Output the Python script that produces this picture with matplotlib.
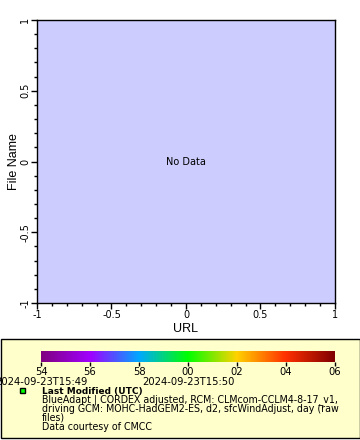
import numpy as np
import matplotlib
matplotlib.use("Agg")
import matplotlib.pyplot as plt
from matplotlib.colors import LinearSegmentedColormap
from matplotlib.patches import Rectangle

# axis ranges / ticks
x_range = [-1, 1]
y_range = [-1, 1]
major_ticks = [-1, -0.5, 0, 0.5, 1]
major_labels = ["-1", "-0.5", "0", "0.5", "1"]

# colour bar (seconds of 2024-09-23T15:49 .. 15:50)
cbar_values = [54, 56, 58, 60, 62, 64, 66]
cbar_labels = ["54", "56", "58", "00", "02", "04", "06"]
cbar_colors = ["#800080", "#a000ff", "#00a8ff", "#00ff00", "#ffd200", "#ff3000", "#800000"]
date_values = [54, 60]
date_labels = ["2024-09-23T15:49", "2024-09-23T15:50"]

legend_lines = [
    "BlueAdapt | CORDEX adjusted, RCM: CLMcom-CCLM4-8-17_v1,",
    "driving GCM: MOHC-HadGEM2-ES, d2, sfcWindAdjust, day (raw",
    "files)",
]
credit = "Data courtesy of CMCC"

W, H = 360, 440
fig = plt.figure(figsize=(W / 100, H / 100), dpi=100)


def px(l, t, r, b):
    return [l / W, 1 - b / H, (r - l) / W, (b - t) / H]


# main plot
ax = fig.add_axes(px(37, 20, 335, 303))
ax.set_facecolor("#ccccff")
ax.set_xlim(x_range)
ax.set_ylim(y_range)
ax.set_xticks(major_ticks)
ax.set_xticklabels(major_labels)
ax.set_yticks(major_ticks)
ax.set_yticklabels(major_labels, rotation=90, va="center")
ax.set_xticks(np.arange(-1, 1.01, 0.1), minor=True)
ax.set_yticks(np.arange(-1, 1.01, 0.1), minor=True)
ax.tick_params(which="major", length=4, width=1, labelsize=7, pad=1)
ax.tick_params(which="minor", length=2, width=1)
for s in ax.spines.values():
    s.set_linewidth(1)
ax.set_xlabel("URL", fontsize=9, family="Liberation Sans", labelpad=2)
ax.set_ylabel("File Name", fontsize=9, family="Liberation Sans", labelpad=0)
ax.text(0, 0, "No Data", ha="center", va="center", fontsize=7)

# legend box (behind the colour bar axes)
fig.patches.append(Rectangle((0.5 / W, 1 - 438 / H), 359 / W, 99 / H,
                             transform=fig.transFigure, facecolor="#ffffcc",
                             edgecolor="black", linewidth=1, zorder=-1))

# colour bar
cmap = LinearSegmentedColormap.from_list("erd", cbar_colors)
cax = fig.add_axes(px(41, 351, 335, 362))
cax.set_zorder(2)
grad = np.linspace(cbar_values[0], cbar_values[-1], 256).reshape(1, -1)
cax.imshow(grad, aspect="auto", cmap=cmap,
           extent=[cbar_values[0], cbar_values[-1], 0, 1])
cax.set_xlim(cbar_values[0], cbar_values[-1])
cax.set_yticks([])
cax.set_xticks(cbar_values)
cax.set_xticklabels(cbar_labels)
cax.tick_params(axis="x", length=3, width=1, labelsize=7.2, pad=0.5)
for s in cax.spines.values():
    s.set_visible(False)
for v, lab in zip(date_values, date_labels):
    cax.text(v, -1.35, lab, ha="center", va="top", fontsize=7.2,
             transform=cax.get_xaxis_transform())

# legend entry
fig.patches.append(Rectangle((19.5 / W, 1 - 392.5 / H), 5 / W, 5 / H,
                             transform=fig.transFigure, facecolor="#00ff00",
                             edgecolor="black", linewidth=1, zorder=3))
fig.text(42 / W, 1 - 393.5 / H, "Last Modified (UTC)", fontsize=6.5,
         fontweight="bold", va="baseline")
for i, line in enumerate(legend_lines):
    fig.text(42 / W, 1 - (402.5 + 9 * i) / H, line, fontsize=6.85, va="baseline")
fig.text(42 / W, 1 - 430 / H, credit, fontsize=6.85, va="baseline")

fig.savefig("out.png", dpi=100)
